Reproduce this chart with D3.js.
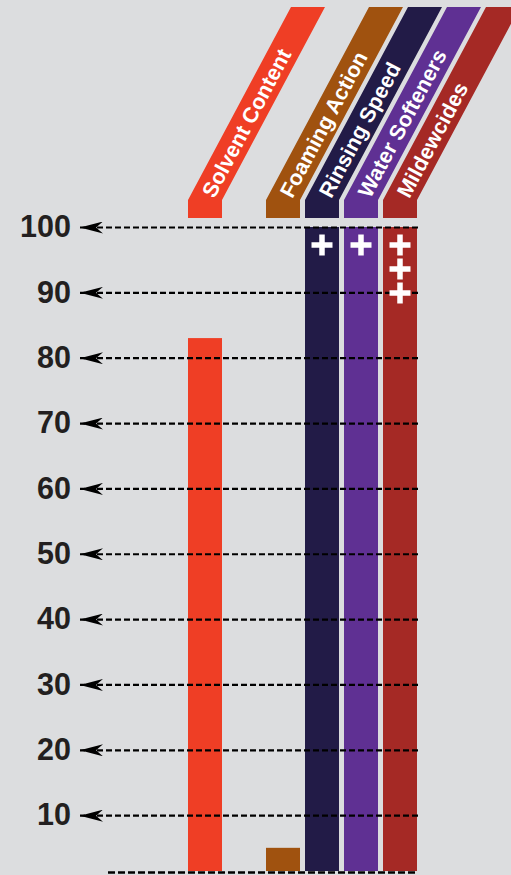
<!DOCTYPE html>
<html>
  <head>
    <meta charset="utf-8">
    <title>Cleaner ingredients</title>
    <script src="https://d3js.org/d3.v7.min.js"></script>
    <style>
      body { margin: 0; background: #dcdddf; }
      svg { display: block; font-family: "Liberation Sans", Arial, sans-serif; }
    </style>
  </head>
  <body>
    <svg id="chart" width="511" height="875"></svg>
    <script>
      // chart data
      const categories = ["Solvent Content", "Foaming Action", "Rinsing Speed", "Water Softeners", "Mildewcides"];
      const values = [83, 5, 100, 100, 100];
      const plusCounts = [0, 0, 1, 1, 3];
      const colours = ["#ef3e25", "#a0520f", "#221b47", "#5f3093", "#a52925"];
      const tickValues = [10, 20, 30, 40, 50, 60, 70, 80, 90, 100];

      svg = d3.select("#chart");
      // one empty slot between the first column and the rest
      slots = [categories[0], "gap"].concat(categories.slice(1));
      x = d3.scaleBand()
        .domain(slots)
        .range([188, 417])
        .paddingInner(5 / 39)
        .paddingOuter(0);
      y = d3.scaleLinear()
        .domain([0, 100])
        .range([880.5, 227]);
      baseY = 871;
      bw = x.bandwidth();

      // arrow head for the grid lines
      svg.append("defs").append("marker")
        .attr("id", "arrow")
        .attr("viewBox", "0 -6 23 12")
        .attr("refX", 23)
        .attr("refY", 0)
        .attr("markerWidth", 23)
        .attr("markerHeight", 12)
        .attr("markerUnits", "userSpaceOnUse")
        .attr("orient", "auto")
        .append("path")
          .attr("d", "M0,-6L23,0L0,6L7,0Z")
          .attr("fill", "#000");

      // bars
      svg.append("g").selectAll("rect")
          .data(categories)
        .enter().append("rect")
          .attr("x", d => x(d))
          .attr("y", (d, i) => y(values[i]))
          .attr("width", bw)
          .attr("height", (d, i) => baseY - y(values[i]))
          .attr("fill", (d, i) => colours[i]);

      // axis: dashed lines drawn leftwards from the right edge of the bars
      right = x(categories[categories.length - 1]) + bw + 1;
      axis = d3.axisLeft(y)
        .tickValues(tickValues)
        .tickSizeInner(right - 80)
        .tickSizeOuter(0)
        .tickPadding(9);
      axisGroup = svg.append("g")
        .attr("transform", "translate(" + right + ",0)")
        .call(axis);
      axisGroup.select(".domain").remove();
      axisGroup.attr("font-size", 30.5)
        .attr("font-weight", "bold")
        .attr("font-family", null);
      axisGroup.selectAll(".tick line")
        .attr("stroke", "#000")
        .attr("stroke-width", 2.2)
        .attr("stroke-dasharray", "6,3")
        .attr("marker-end", "url(#arrow)");
      axisGroup.selectAll(".tick text")
        .attr("fill", "#231f20");

      // baseline
      svg.append("line")
        .attr("x1", 108)
        .attr("x2", right)
        .attr("y1", baseY + 1.5)
        .attr("y2", baseY + 1.5)
        .attr("stroke", "#000")
        .attr("stroke-width", 2.5)
        .attr("stroke-dasharray", "7,3");

      // plus signs
      plusData = [];
      categories.forEach(function(c, i) {
        d3.range(plusCounts[i]).forEach(function(k) {
          plusData.push({ cx: x(c) + bw / 2, cy: y(100) + 18 + k * 24 });
        });
      });
      plus = svg.append("g").selectAll("g")
          .data(plusData)
        .enter().append("g")
          .attr("transform", d => "translate(" + d.cx + "," + d.cy + ")")
          .attr("fill", "#fff");
      plus.append("rect").attr("x", -10.5).attr("y", -2.75).attr("width", 21).attr("height", 5.5);
      plus.append("rect").attr("x", -2.75).attr("y", -10.5).attr("width", 5.5).attr("height", 21);

      // slanted header ribbons
      slantTop = 7, slantBottom = 200, tabBottom = 218, slantDx = 103;
      angle = Math.atan2(slantBottom - slantTop, slantDx) * 180 / Math.PI;
      ribbons = svg.append("g").selectAll("g")
          .data(categories)
        .enter().append("g");
      ribbons.append("path")
        .attr("d", function(d) {
          x0 = x(d);
          return "M" + x0 + "," + tabBottom +
            "L" + x0 + "," + slantBottom +
            "L" + (x0 + slantDx) + "," + slantTop +
            "L" + (x0 + slantDx + bw) + "," + slantTop +
            "L" + (x0 + bw) + "," + slantBottom +
            "L" + (x0 + bw) + "," + tabBottom + "Z";
        })
        .attr("fill", (d, i) => colours[i]);
      ribbons.append("text")
        .attr("transform", d => "translate(" + (x(d) + bw / 2) + "," + slantBottom + ") rotate(" + (-angle) + ")")
        .attr("x", 5)
        .attr("dy", "0.36em")
        .attr("fill", "#fff")
        .attr("font-size", 21.5)
        .attr("font-weight", "bold")
        .text(d => d);
    </script>
  </body>
</html>
